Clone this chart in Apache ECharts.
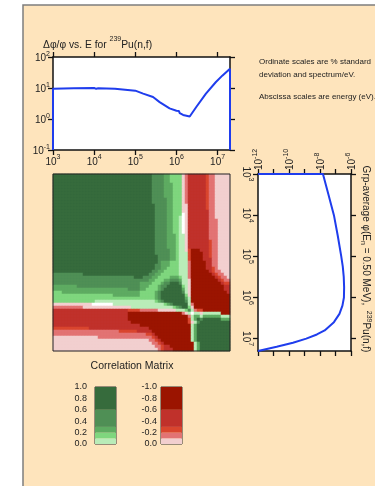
<!DOCTYPE html>
<html><head><meta charset="utf-8">
<script src="https://cdn.jsdelivr.net/npm/echarts@6/dist/echarts.min.js"></script>
<style>html,body{margin:0;padding:0;background:#fff}#c{width:375px;height:486px}</style>
</head><body><div id="c"></div>
<script>
// ---------- DATA ----------
// Top panel: relative standard deviation (%) vs energy (eV)
const sdEnergy  = [1e3, 1e3, 3.2e3, 1e4, 1.12e4, 1.26e4, 3.2e4, 1e5, 1.55e5, 2.7e5, 3.9e5, 6.8e5, 1e6, 1.15e6, 1.2e6, 1.3e6, 1.45e6, 1.6e6, 2.1e6, 3e6, 5.2e6, 9.1e6, 1.3e7, 2e7, 2e7];
const sdPercent = [0.1, 9.5, 9.8, 10, 9.4, 9.8, 9.4, 8.2, 6.6, 5.1, 3.5, 2.2, 1.85, 1.8, 1.55, 1.6, 1.35, 1.2, 1.2, 2.4, 6.6, 15.6, 25, 42, 0.1];
// Right panel: group-average flux (per eV) vs energy (eV)
const fluxEnergy = [1e3, 1e3, 3.16e3, 1e4, 3.16e4, 1e5, 1.78e5, 3.16e5, 5.62e5, 1e6, 1.58e6, 2.51e6, 3.98e6, 6.31e6, 7.94e6, 1e7, 1.26e7, 1.58e7, 2e7];
const fluxPerEV  = [1e-12, 1.55e-8, 3.5e-8, 7.9e-8, 1.4e-7, 2.35e-7, 2.95e-7, 3.4e-7, 3.6e-7, 3.5e-7, 2.8e-7, 1.8e-7, 7.9e-8, 2.0e-8, 6.3e-9, 1.3e-9, 1.8e-10, 1.6e-11, 1e-12];
// Tick values
const energyTicks = [1e3, 1e4, 1e5, 1e6, 1e7];
const sdTicks = [0.1, 1, 10, 100];
const fluxTicks = [1e-12, 1e-11, 1e-10, 1e-9, 1e-8, 1e-7, 1e-6];
const fluxLabelTicks = [1e-12, 1e-10, 1e-8, 1e-6];
// Correlation matrix: 59 log-energy groups (1 keV .. 20 MeV), symmetric.
// Lower-triangle rows (row h holds columns 0..h), run-length "level:count".
const corrLevelValue = {'5':0.8,'4':0.45,'3':0.25,'2':0.15,'1':0.05,'w':0,'a':-0.05,'b':-0.15,'c':-0.25,'d':-0.45,'e':-0.8};
const corrRows = [
"5:1","5:2","5:3","5:4","5:5","5:6","5:7","5:8","5:9","5:10",
"5:11","5:12","5:13","5:14","5:15","5:16","5:17","5:18","5:19","5:20",
"5:21","5:22","5:23","5:24","5:25","5:26","5:27","5:28","5:29","5:30",
"5:31","5:32","5:33",
"4:10,5:22,4:2",
"4:27,5:3,4:3,3:2",
"4:32,3:2,2:2",
"4:29,3:4,2:3,3:1",
"3:8,4:21,3:3,2:3,3:1,4:2",
"3:25,4:4,3:2,2:4,3:1,4:1,5:2",
"2:3,3:26,2:5,3:1,4:1,5:4",
"2:20,3:9,2:5,3:1,4:1,5:5",
"2:34,3:1,4:1,5:6",
"2:14,1:20,2:1,3:1,4:1,5:6",
"a:13,w:7,1:17,2:1,3:1,4:1,5:4",
"b:10,a:16,1:14,2:1,3:1,4:1,5:2",
"d:25,c:4,b:6,a:6,1:3,2:1,4:1",
"d:25,e:18,b:1,a:1,1:1,w:1",
"d:25,e:20,b:1,1:1,3:1",
"d:25,e:20,c:1,1:1,3:1,5:1",
"d:26,e:19,c:1,a:1,1:1,4:1,5:1",
"d:29,e:17,1:1,3:1,5:3",
"c:12,d:20,e:14,1:1,3:1,5:4",
"b:22,c:6,d:5,e:13,1:1,3:1,5:5",
"b:31,c:2,d:1,e:12,1:1,3:1,5:6",
"a:15,b:18,c:1,d:1,e:11,1:1,3:1,5:7",
"a:32,b:2,c:1,d:1,e:10,1:1,3:1,5:8",
"a:33,b:2,c:1,d:1,e:10,1:1,3:1,5:8",
"a:34,b:2,c:1,d:2,e:8,1:1,3:1,5:9",
"a:35,b:1,c:1,d:3,e:7,1:1,3:1,5:10"
];
// Colour-scale legends
const posBandBounds = [0, 0.1, 0.2, 0.3, 0.6, 1.0];
const negBandBounds = [0, -0.1, -0.2, -0.3, -0.6, -1.0];
const greenColors = ['#b9ecb8', '#7fd67e', '#5eab61', '#4f8f55', '#366b3c'];
const redColors   = ['#f2cfcf', '#e27373', '#d9452e', '#c0312b', '#9b1400'];

// ---------- BUILD ----------
const FONT = 'Liberation Sans';
const PEACH = '#fee4bc';
const BLUE = '#1f3ded';
const N = corrRows.length;
const M = corrRows.map(r => { const out = []; r.split(',').forEach(t => { const [c, n] = t.split(':'); for (let k = 0; k < +n; k++) out.push(c); }); return out; });
const heatData = [];
for (let i = 0; i < N; i++) for (let j = 0; j < N; j++) {
  const c = j <= i ? M[i][j] : M[j][i];
  heatData.push([j, i, corrLevelValue[c]]);
}
const cats = Array.from({length: N}, (_, k) => k);

const powLabel = v => '{b|10}{s|' + Math.round(Math.log10(v)) + '}';
const powRich = {
  b: {fontFamily: FONT, fontSize: 10, color: '#222', lineHeight: 13, verticalAlign: 'bottom'},
  s: {fontFamily: FONT, fontSize: 7, color: '#222', lineHeight: 7, verticalAlign: 'top'}
};
const lineBlack = {show: true, lineStyle: {color: '#111', width: 1.5}};
const tickBlack = {show: true, length: 5, lineStyle: {color: '#111', width: 1.3}};

const G0 = {left: 53, top: 57, width: 177, height: 93};
const G1 = {left: 53, top: 174, width: 177, height: 177};
const G2 = {left: 258, top: 174, width: 93, height: 177};
const G3 = {left: 95, top: 387, width: 21, height: 57};
const G4 = {left: 161, top: 387, width: 21, height: 57};

const series = [
  {type: 'line', xAxisIndex: 0, yAxisIndex: 0, data: sdEnergy.map((e, k) => [e, sdPercent[k]]), showSymbol: false, lineStyle: {color: BLUE, width: 2}, z: 3},
  {type: 'heatmap', xAxisIndex: 2, yAxisIndex: 2, data: heatData, itemStyle: {borderWidth: 0}, z: 2},
  {type: 'line', xAxisIndex: 3, yAxisIndex: 3, data: fluxEnergy.map((e, k) => [fluxPerEV[k], e]), showSymbol: false, lineStyle: {color: BLUE, width: 2}, z: 3}
];
for (let k = 0; k < 5; k++) {
  series.push({type: 'bar', xAxisIndex: 5, yAxisIndex: 5, stack: 'g', barWidth: '100%', data: [posBandBounds[k + 1] - posBandBounds[k]], itemStyle: {color: greenColors[k]}});
}
for (let k = 0; k < 5; k++) {
  series.push({type: 'bar', xAxisIndex: 6, yAxisIndex: 6, stack: 'r', barWidth: '100%', data: [negBandBounds[k + 1] - negBandBounds[k]], itemStyle: {color: redColors[k]}});
}

const legendAxisLabel = (margin) => ({fontFamily: FONT, fontSize: 9, color: '#222', margin: margin, formatter: v => (Math.abs(v) < 1e-9 ? 0 : v).toFixed(1)});

const option = {
  animation: false,
  backgroundColor: '#fff',
  grid: [
    Object.assign({show: true, backgroundColor: '#fff', borderWidth: 0}, G0),
    Object.assign({show: false}, G1),
    Object.assign({show: true, backgroundColor: '#fff', borderWidth: 0}, G2),
    Object.assign({show: true, borderColor: '#333', borderWidth: 1}, G3),
    Object.assign({show: true, borderColor: '#333', borderWidth: 1}, G4)
  ],
  xAxis: [
    {gridIndex: 0, type: 'log', min: 1e3, max: 2e7, position: 'bottom', axisLine: lineBlack, axisTick: Object.assign({customValues: energyTicks}, tickBlack),
      axisLabel: {customValues: energyTicks, formatter: powLabel, rich: powRich, margin: 4}, splitLine: {show: false}},
    {gridIndex: 0, type: 'log', min: 1e3, max: 2e7, position: 'top', axisLine: lineBlack, axisTick: Object.assign({customValues: energyTicks}, tickBlack),
      axisLabel: {show: false}, splitLine: {show: false}},
    {gridIndex: 1, type: 'category', data: cats, show: false},
    {gridIndex: 2, type: 'log', min: 1e-12, max: 1e-6, position: 'top', axisLine: lineBlack, axisTick: Object.assign({customValues: fluxTicks}, tickBlack),
      axisLabel: {customValues: fluxLabelTicks, formatter: powLabel, rich: powRich, rotate: -90, margin: 4}, splitLine: {show: false}},
    {gridIndex: 2, type: 'log', min: 1e-12, max: 1e-6, position: 'bottom', axisLine: lineBlack, axisTick: Object.assign({customValues: fluxTicks}, tickBlack),
      axisLabel: {show: false}, splitLine: {show: false}},
    {gridIndex: 3, type: 'category', data: ['c'], show: false},
    {gridIndex: 4, type: 'category', data: ['c'], show: false}
  ],
  yAxis: [
    {gridIndex: 0, type: 'log', min: 0.1, max: 100, position: 'left', axisLine: lineBlack, axisTick: Object.assign({customValues: sdTicks}, tickBlack),
      axisLabel: {customValues: sdTicks, formatter: powLabel, rich: powRich, margin: 3}, splitLine: {show: false}},
    {gridIndex: 0, type: 'log', min: 0.1, max: 100, position: 'right', axisLine: lineBlack, axisTick: Object.assign({customValues: sdTicks}, tickBlack),
      axisLabel: {show: false}, splitLine: {show: false}},
    {gridIndex: 1, type: 'category', data: cats, inverse: true, show: false},
    {gridIndex: 2, type: 'log', min: 1e3, max: 2e7, inverse: true, position: 'left', axisLine: lineBlack, axisTick: Object.assign({customValues: energyTicks}, tickBlack),
      axisLabel: {customValues: energyTicks, formatter: powLabel, rich: powRich, rotate: -90, margin: 4}, splitLine: {show: false}},
    {gridIndex: 2, type: 'log', min: 1e3, max: 2e7, inverse: true, position: 'right', axisLine: lineBlack, axisTick: Object.assign({customValues: energyTicks}, tickBlack),
      axisLabel: {show: false}, splitLine: {show: false}},
    {gridIndex: 3, type: 'value', min: 0, max: 1, interval: 0.2, axisLine: {show: false}, axisTick: {show: false}, splitLine: {show: false}, axisLabel: legendAxisLabel(8)},
    {gridIndex: 4, type: 'value', min: -1, max: 0, interval: 0.2, inverse: true, axisLine: {show: false}, axisTick: {show: false}, splitLine: {show: false}, axisLabel: legendAxisLabel(4)}
  ],
  visualMap: [{
    type: 'piecewise', show: false, seriesIndex: 1, dimension: 2,
    pieces: [
      {gte: 0.6, color: greenColors[4]}, {gte: 0.3, lt: 0.6, color: greenColors[3]}, {gte: 0.2, lt: 0.3, color: greenColors[2]},
      {gte: 0.1, lt: 0.2, color: greenColors[1]}, {gt: 0, lt: 0.1, color: greenColors[0]}, {value: 0, color: '#ffffff'},
      {gt: -0.1, lt: 0, color: redColors[0]}, {gt: -0.2, lte: -0.1, color: redColors[1]}, {gt: -0.3, lte: -0.2, color: redColors[2]},
      {gt: -0.6, lte: -0.3, color: redColors[3]}, {lte: -0.6, color: redColors[4]}
    ]
  }],
  series: series,
  graphic: [
    {type: 'rect', z: -10, shape: {x: 23, y: 5, width: 400, height: 520}, style: {fill: PEACH, stroke: '#7d7d7d', lineWidth: 1.5}},
    {type: 'rect', z: 100, shape: {x: G1.left, y: G1.top, width: G1.width, height: G1.height}, style: {fill: 'none', stroke: '#222', lineWidth: 1}},
    {type: 'text', z: 100, x: 43, y: 36, style: {text: '{a|Δφ/φ vs. E for }{s|239}{a|Pu(n,f)}', rich: {
      a: {fontFamily: FONT, fontSize: 10.3, fill: '#222', lineHeight: 14, verticalAlign: 'bottom'},
      s: {fontFamily: FONT, fontSize: 7, fill: '#222', lineHeight: 8, verticalAlign: 'top'}}}},
    {type: 'text', z: 100, x: 259, y: 58, style: {text: 'Ordinate scales are % standard', fontFamily: FONT, fontSize: 8, fill: '#222'}},
    {type: 'text', z: 100, x: 259, y: 71, style: {text: 'deviation and spectrum/eV.', fontFamily: FONT, fontSize: 8, fill: '#222'}},
    {type: 'text', z: 100, x: 259, y: 93, style: {text: 'Abscissa scales are energy (eV).', fontFamily: FONT, fontSize: 8, fill: '#222'}},
    {type: 'text', z: 100, x: 132, y: 366, style: {text: 'Correlation Matrix', fontFamily: FONT, fontSize: 10.5, fill: '#222', align: 'center', verticalAlign: 'middle'}},
    {type: 'text', z: 100, x: 366, y: 259, rotation: -Math.PI / 2, style: {
      text: '{a|Grp-average φ(E}{d|n}{a| = 0.50 MeV),  }{s|239}{a|Pu(n,f)}', align: 'center', verticalAlign: 'middle', rich: {
        a: {fontFamily: FONT, fontSize: 10, fill: '#222', lineHeight: 13, verticalAlign: 'middle'},
        d: {fontFamily: FONT, fontSize: 7, fill: '#222', lineHeight: 8, verticalAlign: 'bottom', padding: [6, 0, 0, 0]},
        s: {fontFamily: FONT, fontSize: 7, fill: '#222', lineHeight: 8, verticalAlign: 'top'}}}}
  ]
};
const chart = echarts.init(document.getElementById('c'), null, {renderer: 'canvas'});
chart.setOption(option);
</script></body></html>
